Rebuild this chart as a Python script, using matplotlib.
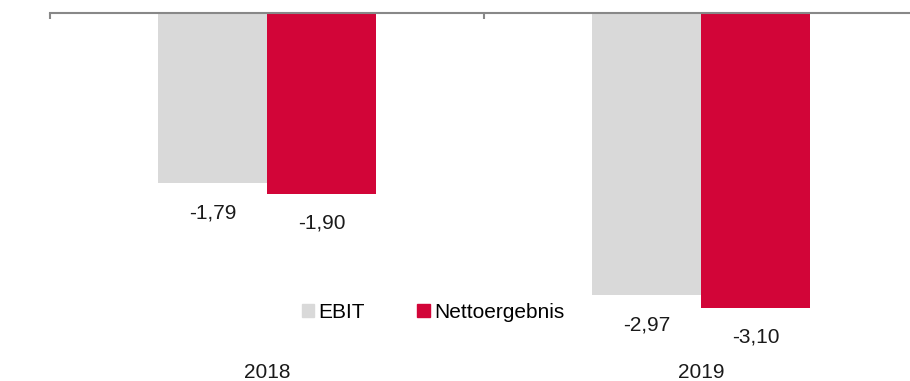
import matplotlib.pyplot as plt
from matplotlib.patches import Patch
from matplotlib.transforms import blended_transform_factory

years = ["2018", "2019"]
ebit = [-1.79, -2.97]
netto = [-1.90, -3.10]
series_names = ["EBIT", "Nettoergebnis"]

gray = "#D9D9D9"
red = "#D20538"

plt.rcParams["font.family"] = ["Liberation Sans", "DejaVu Sans"]
fs = 15

fig = plt.figure(figsize=(9.1, 3.81), dpi=100)
ax = fig.add_axes([50 / 910, 1 - 355 / 381, 868 / 910, 342 / 381])

x = list(range(len(years)))
w = 0.251
ax.bar([i - w / 2 for i in x], ebit, width=w, color=gray)
ax.bar([i + w / 2 for i in x], netto, width=w, color=red)

for i in x:
    for val, dx in ((ebit[i], -w / 2), (netto[i], w / 2)):
        ax.annotate(f"{val:.2f}".replace(".", ","), (i + dx, val),
                    xytext=(0, -21.5), textcoords="offset points",
                    ha="center", va="center", fontsize=fs, color="#1a1a1a")

ax.set_xlim(-0.5, 1.5)
ax.set_ylim(-342 / 95.0, 0)

for s in ["left", "right", "bottom"]:
    ax.spines[s].set_visible(False)
ax.spines["top"].set_color("#888888")
ax.spines["top"].set_linewidth(1.5)
ax.set_yticks([])
ax.xaxis.set_ticks_position("top")
ax.set_xticks([-0.5, 0.5, 1.5])
ax.tick_params(axis="x", direction="in", length=4.5, width=1.5,
               color="#888888", labeltop=False)

trans = blended_transform_factory(ax.transData, fig.transFigure)
for i, yr in zip(x, years):
    ax.text(i, 1 - 372 / 381, yr, transform=trans, ha="center", va="center",
            fontsize=fs, color="#1a1a1a")

handles = [Patch(color=gray), Patch(color=red)]
fig.legend(handles, series_names, loc="center", bbox_to_anchor=(433 / 910, 1 - 312 / 381),
           ncol=2, frameon=False, fontsize=fs, handlelength=0.6, handleheight=0.6,
           handletextpad=0.2, columnspacing=2.5, borderpad=0)

fig.savefig("out.png", dpi=100)
